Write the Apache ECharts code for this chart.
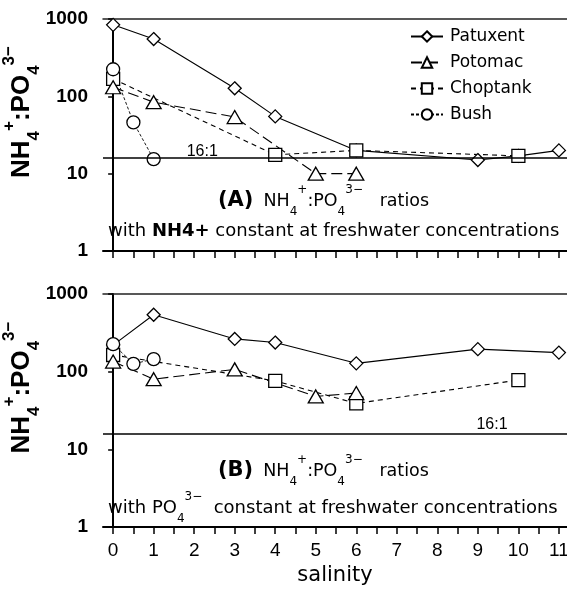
<!DOCTYPE html>
<html>
<head>
<meta charset="utf-8">
<script src="https://cdn.jsdelivr.net/npm/echarts@6/dist/echarts.min.js"></script>
<style>
html,body{margin:0;padding:0;background:#fff;}
#c{width:567px;height:589px;}
</style>
</head>
<body>
<div id="c"></div>
<script>
// ---- data ----
const tickValues = [0,0.5,1,1.5,2,2.5,3,3.5,4,4.5,5,5.5,6,6.5,7,7.5,8,8.5,9,9.5,10,10.5,11];
const tickLabels = [0,1,2,3,4,5,6,7,8,9,10,11];
const refRatio = 16;

// Panel A: NH4+ constant at freshwater concentrations
const aPatuxentX = [0,1,3,4,6,9,10,11];
const aPatuxentY = [840,550,127,55,20,15,17,20];
const aPotomacX  = [0,1,3,5,6];
const aPotomacY  = [131,84,54,10,10];
const aChoptankX = [0,4,6,10];
const aChoptankY = [168,17.5,20,17];
const aBushX     = [0,0.5,1];
const aBushY     = [224,46,15.4];

// Panel B: PO4 3- constant at freshwater concentrations
const bPatuxentX = [0,1,3,4,6,9,11];
const bPatuxentY = [220,540,264,237,128,195,176];
const bPotomacX  = [0,1,3,5,6];
const bPotomacY  = [135,80,107,48,53];
const bChoptankX = [0,4,6,10];
const bChoptankY = [164,76,39,78];
const bBushX     = [0,0.5,1];
const bBushY     = [226,126,145];

const zip = (xs, ys) => xs.map((x, i) => [x, ys[i]]);

const styles = {
  Patuxent: {symbol:'diamond', size:[13,13], line:'solid', width:1.1},
  Potomac:  {symbol:'triangle', size:[15,13], line:[11,5], width:1.1},
  Choptank: {symbol:'rect', size:[13,13], line:[5,4], width:1.1},
  Bush:     {symbol:'circle', size:13, line:[3,2], width:0.9}
};

function mkSeries(name, xs, ys, panel, extra) {
  const s = styles[name];
  return Object.assign({
    name: name,
    type: 'line',
    xAxisIndex: panel,
    yAxisIndex: panel,
    data: zip(xs, ys),
    symbol: s.symbol,
    symbolSize: s.size,
    showAllSymbol: true,
    animation: false,
    lineStyle: {color:'#000', width:s.width, type:s.line},
    itemStyle: {color:'#fff', borderColor:'#000', borderWidth:1.3},
    emphasis: {disabled:true}
  }, extra || {});
}

const font = 'Liberation Sans';
const font2 = 'DejaVu Sans';

function refLine(labelX, dy) {
  return {
    markLine: {
      silent: true, symbol: 'none', animation: false,
      lineStyle: {color:'#000', width:1.5, type:'solid'},
      label: {show:false},
      data: [{yAxis: refRatio}]
    },
    markPoint: {
      silent: true, animation: false,
      symbol: 'circle', symbolSize: 0,
      label: {show:true, formatter:'16:1', color:'#000', fontSize:16,
              fontFamily:font, offset:[0,dy]},
      data: [{coord:[labelX, refRatio]}]
    }
  };
}

function xAxisBottom(grid, showLabels) {
  return {
    gridIndex: grid, type:'value', min:-0.25, max:11.2, position:'bottom',
    name: showLabels ? 'salinity' : '',
    nameLocation:'middle', nameGap:38, nameMoveOverlap:false,
    nameTextStyle:{fontSize:21, color:'#000', fontFamily:font2},
    axisLine:{show:true, onZero:false, lineStyle:{color:'#000', width:2}},
    axisTick:{show:true, customValues:tickValues, length:7, inside:false, lineStyle:{color:'#000', width:1.5}},
    axisLabel:{show:showLabels, customValues:tickLabels, fontSize:19, color:'#000', fontFamily:font, margin:14},
    splitLine:{show:false}
  };
}
function xAxisTop(grid) {
  return {
    gridIndex: grid, type:'value', min:-0.25, max:11.2, position:'top',
    axisLine:{show:true, onZero:false, lineStyle:{color:'#222', width:1.5}},
    axisTick:{show:false}, axisLabel:{show:false}, splitLine:{show:false}
  };
}
const yName = '{t|NH}{sub|4}{sup|+}{t|:PO}{sub|4}{sup|3−}';
const yRich = {
  t:{fontSize:26, fontWeight:'bold', fontFamily:font, color:'#000', lineHeight:42, verticalAlign:'middle'},
  sub:{fontSize:17, fontWeight:'bold', fontFamily:font, color:'#000', verticalAlign:'bottom', lineHeight:42},
  sup:{fontSize:17, fontWeight:'bold', fontFamily:font, color:'#000', verticalAlign:'top', lineHeight:42}
};
function yAxisOf(grid) {
  return {
    gridIndex: grid, type:'log', logBase:10, min:1, max:1000,
    name: yName, nameLocation:'middle', nameRotate:90, nameGap:60, nameMoveOverlap:false,
    nameTextStyle:{rich:yRich, padding:[0,0,0,46]},
    axisLine:{show:true, lineStyle:{color:'#000', width:2}},
    axisTick:{show:true, length:5, inside:false, lineStyle:{color:'#000', width:1.5}},
    axisLabel:{fontSize:19, fontWeight:'bold', color:'#000', fontFamily:font, margin:15,
               formatter: v => String(Math.round(v))},
    splitLine:{show:false}
  };
}

const annRich = {
  b:{fontSize:21, fontWeight:'bold', fontFamily:font2, color:'#000', lineHeight:34, verticalAlign:'middle'},
  t:{fontSize:17.5, fontWeight:'normal', fontFamily:font2, color:'#000', lineHeight:34, verticalAlign:'middle'},
  w:{fontSize:18, fontWeight:'normal', fontFamily:font2, color:'#000', lineHeight:34, verticalAlign:'middle'},
  wb:{fontSize:18, fontWeight:'bold', fontFamily:font2, color:'#000', lineHeight:34, verticalAlign:'middle'},
  sub:{fontSize:12, fontWeight:'normal', fontFamily:font2, color:'#000', lineHeight:34, verticalAlign:'bottom'},
  sup:{fontSize:12, fontWeight:'normal', fontFamily:font2, color:'#000', lineHeight:34, verticalAlign:'top'}
};

const option = {
  backgroundColor:'#fff',
  animation:false,
  grid:[
    {left:103, right:0, top:19, height:232, outerBoundsMode:'none', containLabel:false},
    {left:103, right:0, top:294, height:233, outerBoundsMode:'none', containLabel:false}
  ],
  xAxis:[xAxisBottom(0,false), xAxisBottom(1,true), xAxisTop(0), xAxisTop(1)],
  yAxis:[yAxisOf(0), yAxisOf(1)],
  legend:{
    orient:'vertical', left:405, top:23, itemWidth:32, itemHeight:13, itemGap:9,
    textStyle:{fontSize:17, color:'#000', fontFamily:font2, padding:[0,0,0,2]},
    data:['Patuxent','Potomac','Choptank','Bush'],
    selectedMode:false
  },
  title:[
    {left:218, top:184, padding:0, text:'{b|(A)}  {t|NH}{sub|4}{sup|+}{t|:PO}{sub|4}{sup|3−}{t|   ratios}',
     textStyle:{rich:annRich, fontWeight:'normal'}},
    {left:108, top:214, padding:0, text:'{w|with }{wb|NH4+}{w| constant at freshwater concentrations}',
     textStyle:{rich:annRich, fontWeight:'normal'}},
    {left:218, top:454, padding:0, text:'{b|(B)}  {t|NH}{sub|4}{sup|+}{t|:PO}{sub|4}{sup|3−}{t|   ratios}',
     textStyle:{rich:annRich, fontWeight:'normal'}},
    {left:108, top:491, padding:0, text:'{w|with PO}{sub|4}{sup|3−}{w|  constant at freshwater concentrations}',
     textStyle:{rich:annRich, fontWeight:'normal'}}
  ],
  series:[
    mkSeries('Patuxent', aPatuxentX, aPatuxentY, 0, refLine(2.2, -6)),
    mkSeries('Choptank', aChoptankX, aChoptankY, 0),
    mkSeries('Potomac', aPotomacX, aPotomacY, 0),
    mkSeries('Bush', aBushX, aBushY, 0),
    mkSeries('Patuxent', bPatuxentX, bPatuxentY, 1, refLine(9.35, -9)),
    mkSeries('Choptank', bChoptankX, bChoptankY, 1),
    mkSeries('Potomac', bPotomacX, bPotomacY, 1),
    mkSeries('Bush', bBushX, bBushY, 1)
  ]
};

const chart = echarts.init(document.getElementById('c'), null, {renderer:'canvas'});
chart.setOption(option);
</script>
</body>
</html>
